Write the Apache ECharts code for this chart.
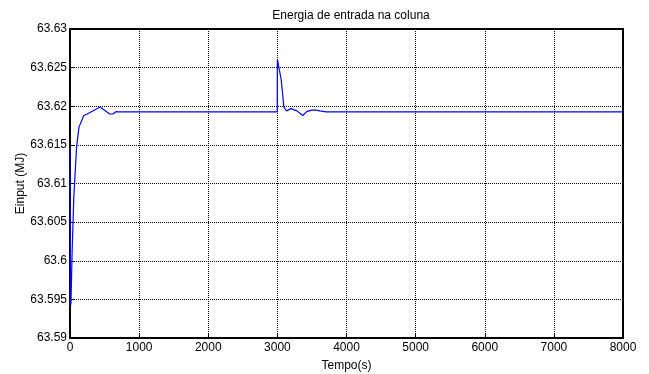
<!DOCTYPE html>
<html>
<head>
<meta charset="utf-8">
<script src="https://cdn.jsdelivr.net/npm/echarts@6/dist/echarts.min.js"></script>
<style>
  html, body { margin: 0; padding: 0; background: #fff; }
  #chart { width: 649px; height: 374px; }
</style>
</head>
<body>
<div id="chart"></div>
<script>
// sampled off the plot
const tempo = [0, 8, 14, 30, 55, 95, 130, 200, 250, 435, 575, 620, 665, 700, 2998,
  3000, 3056, 3094, 3132, 3198, 3283, 3367, 3424, 3495, 3565, 3612, 3706, 8000];
const einput = [63.6145, 63.5942, 63.5945, 63.6009, 63.6082, 63.6147, 63.6173, 63.6188, 63.6190,
  63.6199, 63.6190, 63.6190, 63.6193, 63.61926, 63.61926,
  63.6261, 63.6234, 63.6199, 63.6194, 63.6197, 63.6194, 63.6188, 63.6193, 63.6195, 63.6195,
  63.6194, 63.61926, 63.61926];

const xTicks = [0, 8000, 1000];
const yTicks = [63.59, 63.63, 0.005];

const chart = echarts.init(document.getElementById('chart'));
const font = 'Liberation Sans, Arial, sans-serif';

chart.setOption({
  animation: false,
  title: {
    text: 'Energia de entrada na coluna',
    left: 346, top: 5, textAlign: 'center',
    textStyle: {fontFamily: font, fontSize: 12, fontWeight: 'normal', color: '#000'}
  },
  grid: {
    left: 70, right: 26, top: 29, bottom: 36,
    outerBoundsMode: 'none', containLabel: false,
    show: true, borderColor: '#000', borderWidth: 2
  },
  xAxis: {
    type: 'value', min: xTicks[0], max: xTicks[1], interval: xTicks[2],
    name: 'Tempo(s)', nameLocation: 'middle', nameGap: 22, nameMoveOverlap: false,
    nameTextStyle: {fontFamily: font, fontSize: 12, color: '#000'},
    axisLine: {lineStyle: {color: '#000', width: 2}},
    axisTick: {inside: true, length: 4, lineStyle: {color: '#000'}},
    axisLabel: {fontFamily: font, fontSize: 12, color: '#000', margin: 4, formatter: v => String(v)},
    splitLine: {show: true, lineStyle: {color: '#000', type: [1, 1], width: 1}}
  },
  yAxis: {
    type: 'value', min: yTicks[0], max: yTicks[1], interval: yTicks[2],
    name: 'Einput (MJ)', nameLocation: 'middle', nameGap: 43, nameRotate: 90, nameMoveOverlap: false,
    nameTextStyle: {fontFamily: font, fontSize: 12, color: '#000'},
    axisLine: {lineStyle: {color: '#000', width: 2}},
    axisTick: {inside: true, length: 4, lineStyle: {color: '#000'}},
    axisLabel: {
      fontFamily: font, fontSize: 12, color: '#000', margin: 3,
      formatter: v => String(parseFloat(v.toFixed(3)))
    },
    splitLine: {show: true, lineStyle: {color: '#000', type: [1, 1], width: 1}}
  },
  series: [{
    type: 'line',
    data: tempo.map((t, i) => [t, einput[i]]),
    showSymbol: false,
    lineStyle: {color: '#0000ff', width: 1.2}
  }]
});
</script>
</body>
</html>
